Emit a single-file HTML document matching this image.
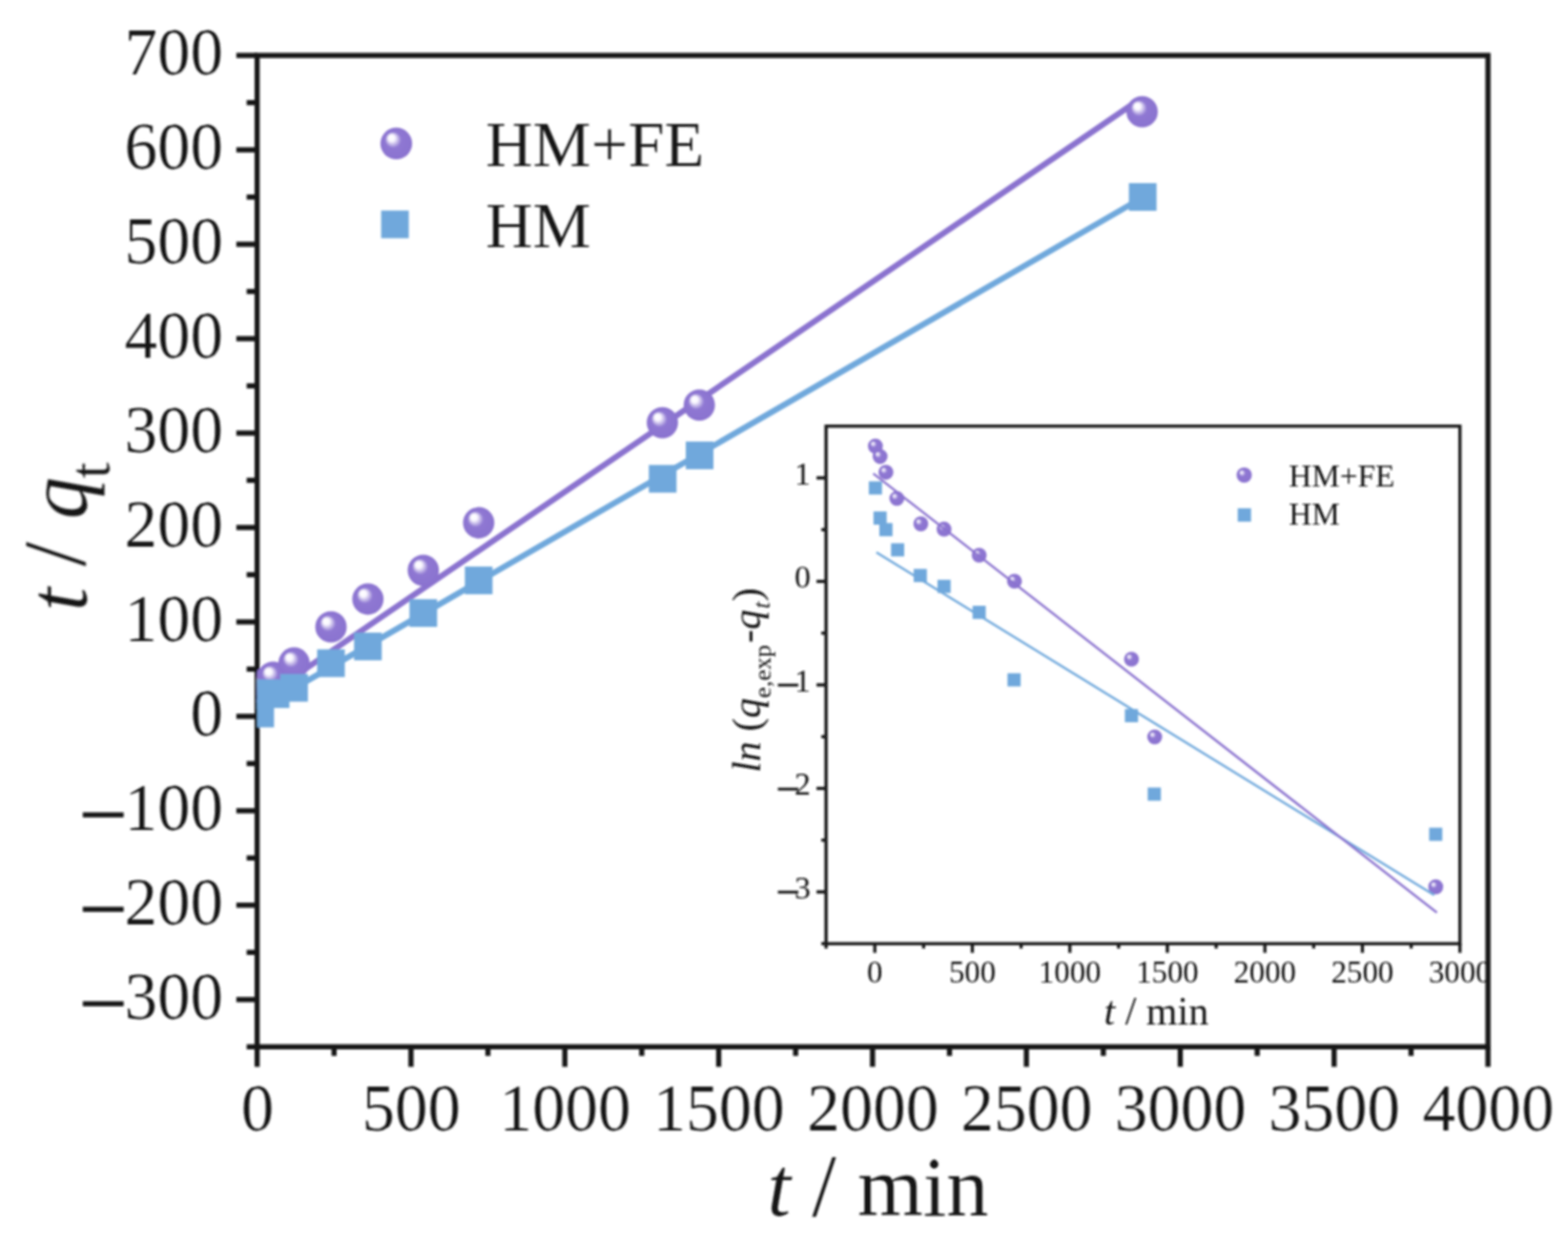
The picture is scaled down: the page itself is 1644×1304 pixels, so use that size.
<!DOCTYPE html>
<html lang="en"><head><meta charset="utf-8"><title>t / qt versus t / min</title>
<style>
html,body{margin:0;padding:0;background:#fff;}
body{width:1644px;height:1304px;overflow:hidden;}
svg{display:block;}
text{font-family:"Liberation Serif","DejaVu Serif",serif;fill:#141414;stroke:#ffffff;stroke-width:0.15px;}
.sm text,text.sm{stroke:none;}
.mn{stroke:#141414;stroke-width:0.9px;}
.sm text .mn2,.mn2{stroke:#141414;stroke-width:0.5px;}
.it{font-style:italic;}
.rm{font-style:normal;}
</style></head><body>
<svg width="1644" height="1304" viewBox="0 0 1644 1304" role="img" aria-label="Pseudo-second-order kinetic plot t / qt versus t / min with pseudo-first-order inset">
<defs>
<radialGradient id="pg" cx="0.5" cy="0.5" r="0.5" fx="0.31" fy="0.28"><stop offset="0" stop-color="#ffffff"/><stop offset="0.2" stop-color="#fbf9ff"/><stop offset="0.5" stop-color="#8f78d3"/><stop offset="1" stop-color="#8a72cf"/></radialGradient>
<radialGradient id="pgs" cx="0.5" cy="0.5" r="0.5" fx="0.30" fy="0.30"><stop offset="0" stop-color="#ffffff"/><stop offset="0.14" stop-color="#ece6fa"/><stop offset="0.40" stop-color="#8f78d3"/><stop offset="1" stop-color="#8a72cf"/></radialGradient>
<clipPath id="mc"><rect x="269.60" y="38.10" width="1290.50" height="1079.20"/></clipPath>
<clipPath id="ic"><rect x="700.00" y="400.00" width="858.60" height="697.30"/></clipPath>
<filter id="bl" filterUnits="userSpaceOnUse" x="0" y="0" width="1644" height="1304"><feGaussianBlur stdDeviation="1.00"/></filter>
</defs>
<rect x="0" y="0" width="1644" height="1304" fill="#ffffff"/>
<g filter="url(#bl)">
<g clip-path="url(#ic)" class="sm">
<g stroke="#141414" stroke-width="3.30" fill="none">
<rect x="866.10" y="446.70" width="664.60" height="542.50"/>
<line x1="866.10" y1="500.95" x2="856.10" y2="500.95"/>
<line x1="866.10" y1="609.45" x2="856.10" y2="609.45"/>
<line x1="866.10" y1="717.95" x2="856.10" y2="717.95"/>
<line x1="866.10" y1="826.45" x2="856.10" y2="826.45"/>
<line x1="866.10" y1="934.95" x2="856.10" y2="934.95"/>
<line x1="866.10" y1="555.20" x2="861.10" y2="555.20"/>
<line x1="866.10" y1="663.70" x2="861.10" y2="663.70"/>
<line x1="866.10" y1="772.20" x2="861.10" y2="772.20"/>
<line x1="866.10" y1="880.70" x2="861.10" y2="880.70"/>
<line x1="866.10" y1="989.20" x2="861.10" y2="989.20"/>
<line x1="917.22" y1="989.20" x2="917.22" y2="998.70"/>
<line x1="1019.47" y1="989.20" x2="1019.47" y2="998.70"/>
<line x1="1121.72" y1="989.20" x2="1121.72" y2="998.70"/>
<line x1="1223.96" y1="989.20" x2="1223.96" y2="998.70"/>
<line x1="1326.21" y1="989.20" x2="1326.21" y2="998.70"/>
<line x1="1428.45" y1="989.20" x2="1428.45" y2="998.70"/>
<line x1="1530.70" y1="989.20" x2="1530.70" y2="998.70"/>
<line x1="866.10" y1="989.20" x2="866.10" y2="994.20"/>
<line x1="968.35" y1="989.20" x2="968.35" y2="994.20"/>
<line x1="1070.59" y1="989.20" x2="1070.59" y2="994.20"/>
<line x1="1172.84" y1="989.20" x2="1172.84" y2="994.20"/>
<line x1="1275.08" y1="989.20" x2="1275.08" y2="994.20"/>
<line x1="1377.33" y1="989.20" x2="1377.33" y2="994.20"/>
<line x1="1479.58" y1="989.20" x2="1479.58" y2="994.20"/>
</g>
<text transform="translate(850.00,507.75) scale(1,1.000)" font-size="34px" text-anchor="end">1</text>
<text transform="translate(850.00,616.25) scale(1,1.000)" font-size="34px" text-anchor="end">0</text>
<text font-size="34px"><tspan class="mn2" x="813.7" y="733.05" font-size="45px">−</tspan><tspan x="850" y="724.75" text-anchor="end">1</tspan></text>
<text font-size="34px"><tspan class="mn2" x="813.7" y="841.55" font-size="45px">−</tspan><tspan x="850" y="833.25" text-anchor="end">2</tspan></text>
<text font-size="34px"><tspan class="mn2" x="813.7" y="950.05" font-size="45px">−</tspan><tspan x="850" y="941.75" text-anchor="end">3</tspan></text>
<text transform="translate(917.22,1030.30) scale(1,1.020)" font-size="32.8px" text-anchor="middle">0</text>
<text transform="translate(1019.47,1030.30) scale(1,1.020)" font-size="32.8px" text-anchor="middle">500</text>
<text transform="translate(1121.72,1030.30) scale(1,1.020)" font-size="32.8px" text-anchor="middle">1000</text>
<text transform="translate(1223.96,1030.30) scale(1,1.020)" font-size="32.8px" text-anchor="middle">1500</text>
<text transform="translate(1326.21,1030.30) scale(1,1.020)" font-size="32.8px" text-anchor="middle">2000</text>
<text transform="translate(1428.45,1030.30) scale(1,1.020)" font-size="32.8px" text-anchor="middle">2500</text>
<text transform="translate(1530.70,1030.30) scale(1,1.020)" font-size="32.8px" text-anchor="middle">3000</text>
<text transform="translate(1157.50,1073.80) scale(1,1.000)" font-size="42px" text-anchor="start"><tspan class="it">t</tspan> / min</text>
<text transform="translate(797,809.8) rotate(-90)" font-size="42px"><tspan class="it">ln</tspan> (<tspan class="it">q</tspan><tspan font-size="26px" dy="10.5">e,exp</tspan><tspan class="it" dy="-10.5" dx="2">-q</tspan><tspan class="it" font-size="26px" dy="10" dx="1">t</tspan><tspan dy="-10" dx="0.5">)</tspan></text>
<rect x="910.94" y="504.57" width="13.80" height="13.80" fill="#6fa8dc"/>
<rect x="915.84" y="536.15" width="13.80" height="13.80" fill="#6fa8dc"/>
<rect x="921.98" y="548.30" width="13.80" height="13.80" fill="#6fa8dc"/>
<rect x="934.25" y="569.46" width="13.80" height="13.80" fill="#6fa8dc"/>
<rect x="957.97" y="596.37" width="13.80" height="13.80" fill="#6fa8dc"/>
<rect x="982.92" y="607.76" width="13.80" height="13.80" fill="#6fa8dc"/>
<rect x="1019.73" y="634.99" width="13.80" height="13.80" fill="#6fa8dc"/>
<rect x="1056.33" y="705.73" width="13.80" height="13.80" fill="#6fa8dc"/>
<rect x="1179.43" y="743.27" width="13.80" height="13.80" fill="#6fa8dc"/>
<rect x="1203.36" y="825.52" width="13.80" height="13.80" fill="#6fa8dc"/>
<rect x="1498.44" y="867.62" width="13.80" height="13.80" fill="#6fa8dc"/>
<circle cx="917.84" cy="467.64" r="7.80" fill="url(#pgs)"/>
<circle cx="922.74" cy="478.60" r="7.80" fill="url(#pgs)"/>
<circle cx="928.88" cy="495.09" r="7.80" fill="url(#pgs)"/>
<circle cx="940.33" cy="522.43" r="7.80" fill="url(#pgs)"/>
<circle cx="965.48" cy="549.12" r="7.80" fill="url(#pgs)"/>
<circle cx="989.82" cy="554.66" r="7.80" fill="url(#pgs)"/>
<circle cx="1026.63" cy="582.00" r="7.80" fill="url(#pgs)"/>
<circle cx="1063.64" cy="609.23" r="7.80" fill="url(#pgs)"/>
<circle cx="1186.33" cy="690.93" r="7.80" fill="url(#pgs)"/>
<circle cx="1210.67" cy="772.53" r="7.80" fill="url(#pgs)"/>
<circle cx="1505.34" cy="929.63" r="7.80" fill="url(#pgs)"/>
<line x1="918.86" y1="578.96" x2="1503.71" y2="938.20" stroke="#6fa8dc" stroke-width="2.40"/>
<line x1="915.59" y1="496.39" x2="1506.57" y2="956.65" stroke="#8a72cf" stroke-width="2.40"/>
<circle cx="1304.5" cy="498" r="8" fill="url(#pgs)"/>
<rect x="1297.7" y="532.8" width="14" height="14" fill="#6fa8dc"/>
<text transform="translate(1351.30,509.50) scale(1,1.000)" font-size="33.2px" text-anchor="start">HM+FE</text>
<text transform="translate(1351.30,549.80) scale(1,1.000)" font-size="33.2px" text-anchor="start">HM</text>
</g>
<g stroke="#141414" stroke-width="5.40" fill="none" stroke-linecap="butt">
<rect x="269.60" y="58.10" width="1290.50" height="1039.20"/>
<line x1="269.60" y1="1047.81" x2="247.80" y2="1047.81"/>
<line x1="269.60" y1="948.84" x2="247.80" y2="948.84"/>
<line x1="269.60" y1="849.87" x2="247.80" y2="849.87"/>
<line x1="269.60" y1="750.90" x2="247.80" y2="750.90"/>
<line x1="269.60" y1="651.93" x2="247.80" y2="651.93"/>
<line x1="269.60" y1="552.96" x2="247.80" y2="552.96"/>
<line x1="269.60" y1="453.99" x2="247.80" y2="453.99"/>
<line x1="269.60" y1="355.01" x2="247.80" y2="355.01"/>
<line x1="269.60" y1="256.04" x2="247.80" y2="256.04"/>
<line x1="269.60" y1="157.07" x2="247.80" y2="157.07"/>
<line x1="269.60" y1="58.10" x2="247.80" y2="58.10"/>
<line x1="269.60" y1="1097.30" x2="258.60" y2="1097.30"/>
<line x1="269.60" y1="998.33" x2="258.60" y2="998.33"/>
<line x1="269.60" y1="899.36" x2="258.60" y2="899.36"/>
<line x1="269.60" y1="800.39" x2="258.60" y2="800.39"/>
<line x1="269.60" y1="701.41" x2="258.60" y2="701.41"/>
<line x1="269.60" y1="602.44" x2="258.60" y2="602.44"/>
<line x1="269.60" y1="503.47" x2="258.60" y2="503.47"/>
<line x1="269.60" y1="404.50" x2="258.60" y2="404.50"/>
<line x1="269.60" y1="305.53" x2="258.60" y2="305.53"/>
<line x1="269.60" y1="206.56" x2="258.60" y2="206.56"/>
<line x1="269.60" y1="107.59" x2="258.60" y2="107.59"/>
<line x1="269.60" y1="1097.30" x2="269.60" y2="1118.30"/>
<line x1="430.91" y1="1097.30" x2="430.91" y2="1118.30"/>
<line x1="592.23" y1="1097.30" x2="592.23" y2="1118.30"/>
<line x1="753.54" y1="1097.30" x2="753.54" y2="1118.30"/>
<line x1="914.85" y1="1097.30" x2="914.85" y2="1118.30"/>
<line x1="1076.16" y1="1097.30" x2="1076.16" y2="1118.30"/>
<line x1="1237.47" y1="1097.30" x2="1237.47" y2="1118.30"/>
<line x1="1398.79" y1="1097.30" x2="1398.79" y2="1118.30"/>
<line x1="1560.10" y1="1097.30" x2="1560.10" y2="1118.30"/>
<line x1="350.26" y1="1097.30" x2="350.26" y2="1106.80"/>
<line x1="511.57" y1="1097.30" x2="511.57" y2="1106.80"/>
<line x1="672.88" y1="1097.30" x2="672.88" y2="1106.80"/>
<line x1="834.19" y1="1097.30" x2="834.19" y2="1106.80"/>
<line x1="995.51" y1="1097.30" x2="995.51" y2="1106.80"/>
<line x1="1156.82" y1="1097.30" x2="1156.82" y2="1106.80"/>
<line x1="1318.13" y1="1097.30" x2="1318.13" y2="1106.80"/>
<line x1="1479.44" y1="1097.30" x2="1479.44" y2="1106.80"/>
</g>
<text transform="translate(234.00,78.10) scale(1,1.000)" font-size="69px" text-anchor="end">700</text>
<text transform="translate(234.00,177.07) scale(1,1.000)" font-size="69px" text-anchor="end">600</text>
<text transform="translate(234.00,276.04) scale(1,1.000)" font-size="69px" text-anchor="end">500</text>
<text transform="translate(234.00,375.01) scale(1,1.000)" font-size="69px" text-anchor="end">400</text>
<text transform="translate(234.00,473.99) scale(1,1.000)" font-size="69px" text-anchor="end">300</text>
<text transform="translate(234.00,572.96) scale(1,1.000)" font-size="69px" text-anchor="end">200</text>
<text transform="translate(234.00,671.93) scale(1,1.000)" font-size="69px" text-anchor="end">100</text>
<text transform="translate(234.00,770.90) scale(1,1.000)" font-size="69px" text-anchor="end">0</text>
<text font-size="69px"><tspan class="mn" x="83" y="884.27" font-size="90px">−</tspan><tspan x="234" y="869.87" text-anchor="end">100</tspan></text>
<text font-size="69px"><tspan class="mn" x="83" y="983.24" font-size="90px">−</tspan><tspan x="234" y="968.84" text-anchor="end">200</tspan></text>
<text font-size="69px"><tspan class="mn" x="83" y="1082.21" font-size="90px">−</tspan><tspan x="234" y="1067.81" text-anchor="end">300</tspan></text>
<text transform="translate(269.90,1185.30) scale(1,1.000)" font-size="69px" text-anchor="middle">0</text>
<text transform="translate(431.21,1185.30) scale(1,1.000)" font-size="69px" text-anchor="middle">500</text>
<text transform="translate(592.52,1185.30) scale(1,1.000)" font-size="69px" text-anchor="middle">1000</text>
<text transform="translate(753.84,1185.30) scale(1,1.000)" font-size="69px" text-anchor="middle">1500</text>
<text transform="translate(915.15,1185.30) scale(1,1.000)" font-size="69px" text-anchor="middle">2000</text>
<text transform="translate(1076.46,1185.30) scale(1,1.000)" font-size="69px" text-anchor="middle">2500</text>
<text transform="translate(1237.77,1185.30) scale(1,1.000)" font-size="69px" text-anchor="middle">3000</text>
<text transform="translate(1399.09,1185.30) scale(1,1.000)" font-size="69px" text-anchor="middle">3500</text>
<text transform="translate(1560.40,1185.30) scale(1,1.000)" font-size="69px" text-anchor="middle">4000</text>
<text transform="translate(804.50,1274.30) scale(1,1.010)" font-size="88.5px" text-anchor="start"><tspan class="it">t</tspan> <tspan font-size="92px">/</tspan> min</text>
<text transform="translate(90.5,640.5) rotate(-90)" font-size="88.5px"><tspan class="it">t</tspan> <tspan font-size="93px" dy="-2">/</tspan><tspan dy="2"> </tspan><tspan class="it" dx="1.5">q</tspan><tspan font-size="61px" dy="24" dx="-1.5">t</tspan></text>
<g clip-path="url(#mc)">
<line x1="269.60" y1="735.76" x2="1191.66" y2="106.40" stroke="#8a72cf" stroke-width="6.20"/>
<circle cx="272.83" cy="721.21" r="16.40" fill="url(#pg)"/>
<circle cx="279.28" cy="716.26" r="16.40" fill="url(#pg)"/>
<circle cx="286.38" cy="709.83" r="16.40" fill="url(#pg)"/>
<circle cx="308.32" cy="694.98" r="16.40" fill="url(#pg)"/>
<circle cx="347.03" cy="657.17" r="16.40" fill="url(#pg)"/>
<circle cx="385.75" cy="627.98" r="16.40" fill="url(#pg)"/>
<circle cx="443.82" cy="597.79" r="16.40" fill="url(#pg)"/>
<circle cx="501.89" cy="548.01" r="16.40" fill="url(#pg)"/>
<circle cx="694.50" cy="443.10" r="16.40" fill="url(#pg)"/>
<circle cx="733.21" cy="424.59" r="16.40" fill="url(#pg)"/>
<circle cx="1197.47" cy="117.19" r="16.40" fill="url(#pg)"/>
<line x1="269.60" y1="743.97" x2="1198.76" y2="206.56" stroke="#6fa8dc" stroke-width="6.20"/>
<rect x="258.33" y="733.43" width="29.00" height="29.00" fill="#6fa8dc"/>
<rect x="264.78" y="712.15" width="29.00" height="29.00" fill="#6fa8dc"/>
<rect x="274.46" y="713.14" width="29.00" height="29.00" fill="#6fa8dc"/>
<rect x="293.82" y="706.51" width="29.00" height="29.00" fill="#6fa8dc"/>
<rect x="332.53" y="680.68" width="29.00" height="29.00" fill="#6fa8dc"/>
<rect x="371.25" y="663.16" width="29.00" height="29.00" fill="#6fa8dc"/>
<rect x="429.32" y="628.13" width="29.00" height="29.00" fill="#6fa8dc"/>
<rect x="487.39" y="593.88" width="29.00" height="29.00" fill="#6fa8dc"/>
<rect x="680.32" y="487.39" width="29.00" height="29.00" fill="#6fa8dc"/>
<rect x="719.03" y="462.84" width="29.00" height="29.00" fill="#6fa8dc"/>
<rect x="1183.61" y="191.96" width="29.00" height="29.00" fill="#6fa8dc"/>
</g>
<circle cx="415.5" cy="150.4" r="16.6" fill="url(#pg)"/>
<rect x="399.6" y="220.7" width="29" height="29" fill="#6fa8dc"/>
<text transform="translate(509.00,174.30) scale(1,1.000)" font-size="68.7px" text-anchor="start">HM+FE</text>
<text transform="translate(509.00,258.80) scale(1,1.000)" font-size="68.7px" text-anchor="start">HM</text>
</g>
</svg></body></html>
